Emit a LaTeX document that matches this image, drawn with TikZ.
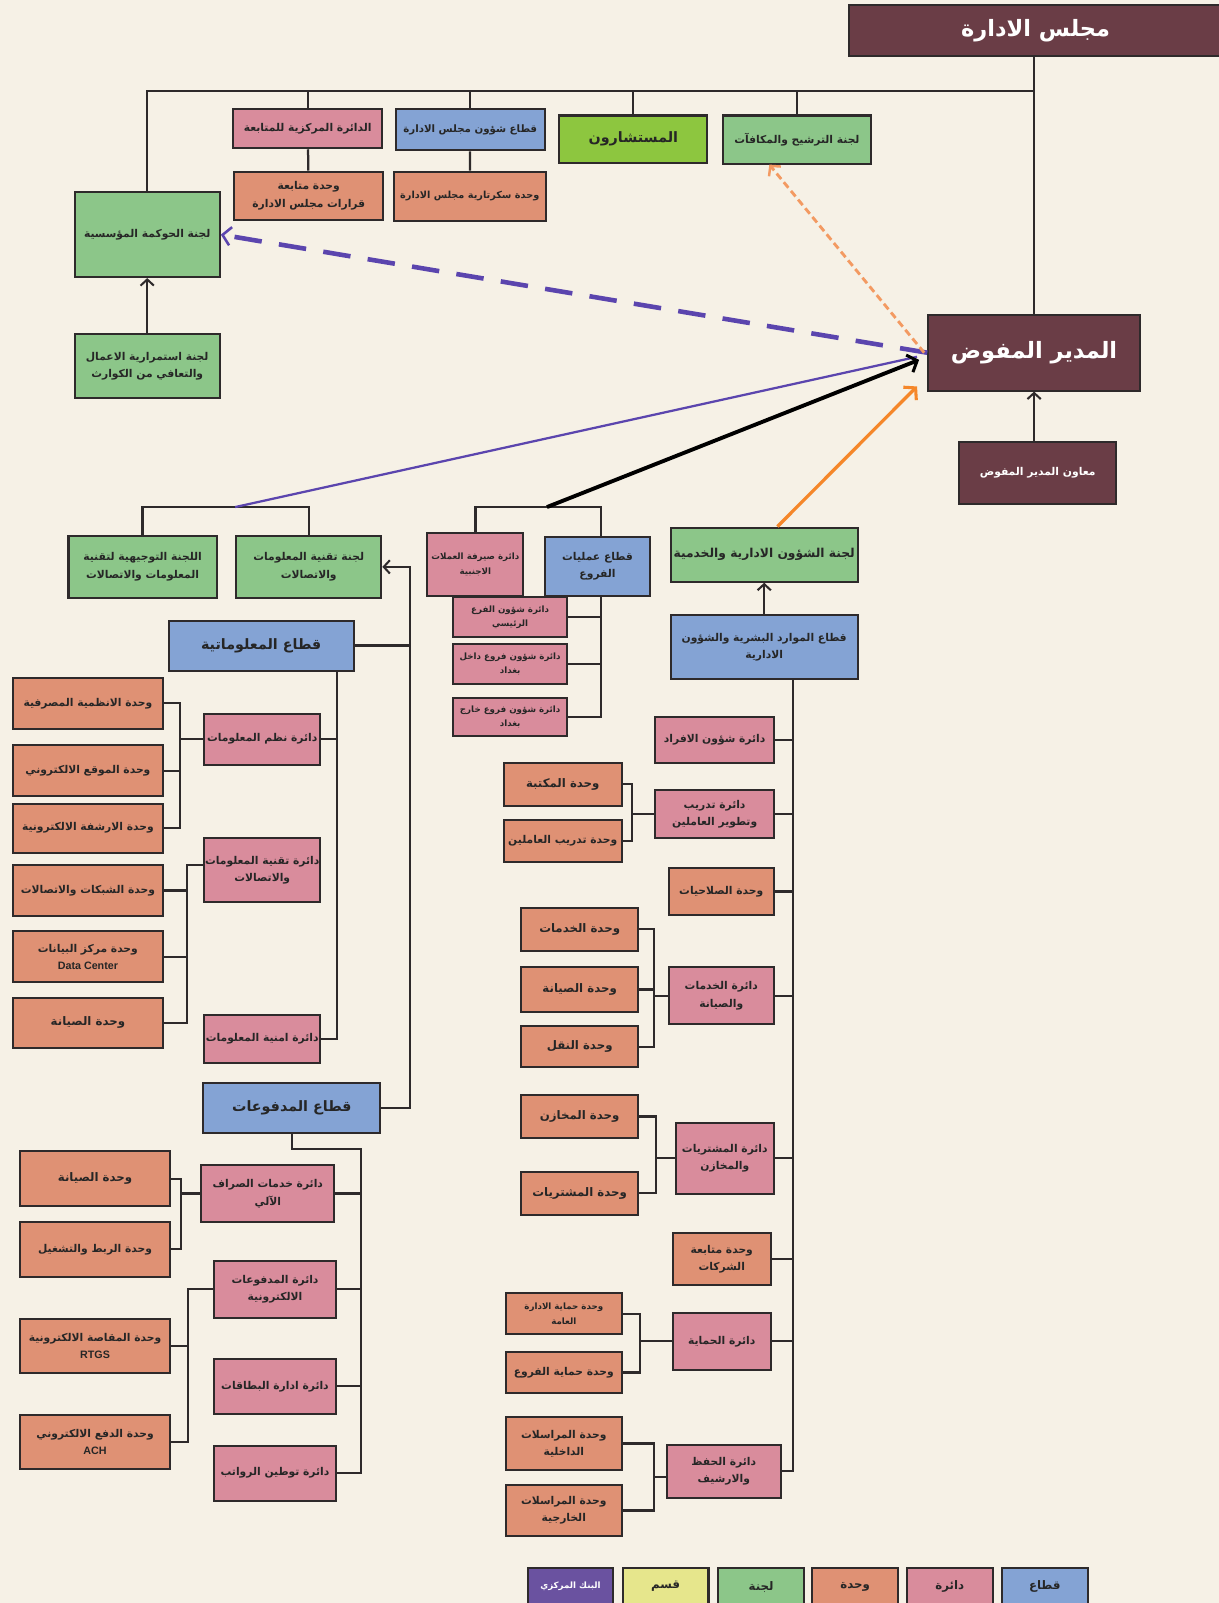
\documentclass[tikz,border=0pt]{standalone}
\usepackage{fontspec}
\usepackage{xcolor}
\usepackage{tikz}
\usetikzlibrary{arrows.meta,calc}
\setmainfont{DejaVu Sans}
\newfontfamily\arabicfont[Script=Arabic]{DejaVu Sans}
\newfontfamily\latinfont{Liberation Sans}
\TeXXeTstate=1
\definecolor{bgcream}{HTML}{F6F1E6}
\definecolor{boxline}{HTML}{2E2A2B}
\definecolor{headfill}{HTML}{6A3D46}
\definecolor{qitaafill}{HTML}{84A3D4}
\definecolor{dairafill}{HTML}{D98C9C}
\definecolor{wahdafill}{HTML}{DF9174}
\definecolor{lajnafill}{HTML}{8CC689}
\definecolor{advfill}{HTML}{8DC63F}
\definecolor{cbfill}{HTML}{6A52A0}
\definecolor{qismfill}{HTML}{E6E68C}
\definecolor{linkpurple}{HTML}{5B45AE}
\definecolor{linkorange}{HTML}{F5872A}
\definecolor{linkpeach}{HTML}{F39A62}
\newcommand{\ar}[1]{{\arabicfont\beginR #1\endR}}
\newcommand{\fbig}{\fontsize{22}{26}\selectfont}
\newcommand{\fmid}{\fontsize{14}{18}\selectfont}
\newcommand{\fsmall}{\fontsize{10.5}{17}\selectfont}
\newcommand{\fshort}{\fontsize{11.5}{17}\selectfont}
\newcommand{\ftiny}{\fontsize{8.5}{14}\selectfont}

\begin{document}
\begin{tikzpicture}[x=1pt, y=-1pt,
  box/.style={draw=boxline, line width=2pt, align=center, inner sep=1pt, font=\fsmall\bfseries, text=black!85},
  wh/.style 2 args={minimum width=#1pt, minimum height=#2pt},
  qitaa/.style={box, fill=qitaafill},
  daira/.style={box, fill=dairafill},
  wahda/.style={box, fill=wahdafill},
  lajna/.style={box, fill=lajnafill},
  head/.style={box, fill=headfill, text=white},
  short/.style={font=\fshort\bfseries},
  ln/.style={line width=2.2pt, boxline},
  arr/.style={ln, -{Straight Barb[length=6pt, width=13pt, line width=2pt]}}
]
  \fill[bgcream] (0,0) rectangle (1192,1568);
  \useasboundingbox (0,0) rectangle (1192,1568);

  \node[head, wh={365}{50}, font=\fbig\bfseries] (majlis) at (1013,30) {\ar{مجلس الادارة}};
  \node[head, wh={207}{74}, font=\fbig\bfseries] (mudir) at (1011.5,345) {\ar{المدير المفوض}};
  \node[head, wh={154}{61}] (muawin) at (1015,462.5) {\ar{معاون المدير المفوض}};
  \node[daira, wh={146}{38}] (markaz) at (301,126) {\ar{الدائرة المركزية للمتابعة}};
  \node[wahda, wh={146}{47}] (mutabaa) at (302,191.5) {\ar{وحدة متابعة}\\\ar{قرارات مجلس الادارة}};
  \node[qitaa, wh={146}{40}, font=\fontsize{10}{16}\selectfont\bfseries] (shuoonmajlis) at (460,127) {\ar{قطاع شؤون مجلس الادارة}};
  \node[wahda, wh={149}{48}, font=\fontsize{9.5}{16}\selectfont\bfseries] (sikritar) at (459.5,192) {\ar{وحدة سكرتارية مجلس الادارة}};
  \node[box, fill=advfill, wh={145}{46}, font=\fmid\bfseries] (mustashar) at (619.5,136) {\ar{المستشارون}};
  \node[lajna, wh={145}{47}] (tarsheeh) at (779.5,136.5) {\ar{لجنة الترشيح والمكافآت}};
  \node[lajna, wh={142}{83}] (hawkama) at (144,229.5) {\ar{لجنة الحوكمة المؤسسية}};
  \node[lajna, wh={142}{62}] (istimrar) at (144,358) {\ar{لجنة استمرارية الاعمال}\\\ar{والتعافي من الكوارث}};

  \node[lajna, wh={145}{61}] (tawjih) at (139.5,554.5) {\ar{اللجنة التوجيهية لتقنية}\\\ar{المعلومات والاتصالات}};
  \node[lajna, wh={142}{61}] (ictlajna) at (302,554.5) {\ar{لجنة تقنية المعلومات}\\\ar{والاتصالات}};
  \node[qitaa, wh={181}{49}, font=\fmid\bfseries] (maalumatiya) at (255.5,631.5) {\ar{قطاع المعلوماتية}};
  \node[daira, wh={113}{50}] (nuthum) at (256.5,723) {\ar{دائرة نظم المعلومات}};
  \node[daira, wh={113}{62}] (taqniya) at (256.5,851) {\ar{دائرة تقنية المعلومات}\\\ar{والاتصالات}};
  \node[daira, wh={113}{47}] (amniya) at (256.5,1016.5) {\ar{دائرة امنية المعلومات}};
  \node[wahda, wh={146}{50}] (anthima) at (86,688) {\ar{وحدة الانظمية المصرفية}};
  \node[wahda, wh={146}{50}] (mawqi) at (86,754) {\ar{وحدة الموقع الالكتروني}};
  \node[wahda, wh={146}{48}] (arshafa) at (86,810) {\ar{وحدة الارشفة الالكترونية}};
  \node[wahda, wh={146}{50}] (shabakat) at (86,871) {\ar{وحدة الشبكات والاتصالات}};
  \node[wahda, wh={146}{50}] (datacenter) at (86,936) {\ar{وحدة مركز البيانات}\\{\latinfont Data Center}};
  \node[wahda, short, wh={146}{49}] (siyanaa) at (86,1000.5) {\ar{وحدة الصيانة}};

  \node[qitaa, wh={173}{49}, font=\fmid\bfseries] (madfooat) at (285.5,1083.5) {\ar{قطاع المدفوعات}};
  \node[daira, wh={130}{55}] (siraf) at (262,1167.5) {\ar{دائرة خدمات الصراف}\\\ar{الآلي}};
  \node[daira, wh={120}{56}] (elec) at (269,1261) {\ar{دائرة المدفوعات}\\\ar{الالكترونية}};
  \node[daira, wh={120}{54}] (cards) at (269,1356) {\ar{دائرة ادارة البطاقات}};
  \node[daira, wh={120}{54}] (rawatib) at (269,1441) {\ar{دائرة توطين الرواتب}};
  \node[wahda, short, wh={146}{54}] (siyanab) at (93,1153) {\ar{وحدة الصيانة}};
  \node[wahda, wh={146}{54}] (rabt) at (93,1222) {\ar{وحدة الربط والتشغيل}};
  \node[wahda, wh={146}{53}] (rtgs) at (93,1316.5) {\ar{وحدة المقاصة الالكترونية}\\{\latinfont RTGS}};
  \node[wahda, wh={146}{53}] (ach) at (93,1410.5) {\ar{وحدة الدفع الالكتروني}\\{\latinfont ACH}};

  \node[daira, wh={94}{62}, font=\ftiny\bfseries] (sairafa) at (465,552) {\ar{دائرة صيرفة العملات}\\\ar{الاجنبية}};
  \node[qitaa, wh={103}{58}] (amaliyat) at (584.5,554) {\ar{قطاع عمليات}\\\ar{الفروع}};
  \node[daira, wh={112}{39}, font=\ftiny\bfseries] (raeesi) at (499,603.5) {\ar{دائرة شؤون الفرع}\\\ar{الرئيسي}};
  \node[daira, wh={112}{39}, font=\ftiny\bfseries] (dakhil) at (499,649.5) {\ar{دائرة شؤون فروع داخل}\\\ar{بغداد}};
  \node[daira, wh={112}{37}, font=\ftiny\bfseries] (kharij) at (499,701.5) {\ar{دائرة شؤون فروع خارج}\\\ar{بغداد}};

  \node[lajna, wh={183}{53}, font=\fontsize{12}{16}\selectfont\bfseries] (lajnashuoon) at (747.5,542.5) {\ar{لجنة الشؤون الادارية والخدمية}};
  \node[qitaa, wh={183}{62}] (mawarid) at (747.5,633) {\ar{قطاع الموارد البشرية والشؤون}\\\ar{الادارية}};
  \node[daira, wh={116}{45}] (afrad) at (699,723.5) {\ar{دائرة شؤون الافراد}};
  \node[daira, wh={116}{47}] (tadreeb) at (699,796.5) {\ar{دائرة تدريب}\\\ar{وتطوير العاملين}};
  \node[wahda, wh={103}{46}] (salahiyat) at (705.5,872) {\ar{وحدة الصلاحيات}};
  \node[daira, wh={103}{56}] (khadamat) at (705.5,974) {\ar{دائرة الخدمات}\\\ar{والصيانة}};
  \node[daira, wh={96}{70}] (mushtarayat) at (709,1133) {\ar{دائرة المشتريات}\\\ar{والمخازن}};
  \node[wahda, wh={96}{51}] (sharikat) at (706,1231.5) {\ar{وحدة متابعة}\\\ar{الشركات}};
  \node[daira, wh={96}{56}] (himaya) at (706,1312) {\ar{دائرة الحماية}};
  \node[daira, wh={112}{52}] (hifth) at (708,1439) {\ar{دائرة الحفظ}\\\ar{والارشيف}};
  \node[wahda, short, wh={115}{42}] (maktaba) at (550.5,767) {\ar{وحدة المكتبة}};
  \node[wahda, wh={115}{41}] (tadreebw) at (550.5,822.5) {\ar{وحدة تدريب العاملين}};
  \node[wahda, short, wh={114}{42}] (khadamatw) at (567,909) {\ar{وحدة الخدمات}};
  \node[wahda, short, wh={114}{44}] (siyanac) at (567,968) {\ar{وحدة الصيانة}};
  \node[wahda, short, wh={114}{40}] (naql) at (567,1024) {\ar{وحدة النقل}};
  \node[wahda, short, wh={114}{42}] (makhazin) at (567,1092) {\ar{وحدة المخازن}};
  \node[wahda, short, wh={114}{42}] (mushtarayatw) at (567,1167) {\ar{وحدة المشتريات}};
  \node[wahda, wh={113}{40}, font=\ftiny\bfseries] (himayaidara) at (551.5,1285) {\ar{وحدة حماية الادارة}\\\ar{العامة}};
  \node[wahda, wh={113}{41}] (himayafuru) at (551.5,1342.5) {\ar{وحدة حماية الفروع}};
  \node[wahda, wh={113}{52}] (murasalatd) at (551.5,1412) {\ar{وحدة المراسلات}\\\ar{الداخلية}};
  \node[wahda, wh={113}{49}] (murasalatkh) at (551.5,1477.5) {\ar{وحدة المراسلات}\\\ar{الخارجية}};

  \node[box, fill=cbfill, wh={84}{37}, font=\ftiny\bfseries, text=white!85] (keycb) at (558,1552) {\ar{البنك المركزي}};
  \node[box, fill=qismfill, short, wh={84}{37}] (keyqism) at (651,1552) {\ar{قسم}};
  \node[lajna, short, wh={84}{37}] (keylajna) at (744.5,1552) {\ar{لجنة}};
  \node[wahda, short, wh={84}{37}] (keywahda) at (836.5,1552) {\ar{وحدة}};
  \node[daira, short, wh={84}{37}] (keydaira) at (929,1552) {\ar{دائرة}};
  \node[qitaa, short, wh={84}{37}] (keyqitaa) at (1022,1552) {\ar{قطاع}};

  \coordinate (topbar) at (1011.5,89);
  \coordinate (ictbar) at (230,496);
  \coordinate (brbar) at (535,496);
  \coordinate (brbus) at (588,0);
  \coordinate (itbus) at (401,0);
  \coordinate (mbus) at (330,0);
  \coordinate (pbus) at (353,1124);
  \coordinate (hrbus) at (776,0);
  \coordinate (busa) at (176,0);
  \coordinate (busb) at (183,0);
  \coordinate (busc) at (177,0);
  \coordinate (busd) at (184,0);
  \coordinate (buse) at (618,0);
  \coordinate (busf) at (640,0);
  \coordinate (busg) at (642,0);
  \coordinate (bush) at (626,0);
  \coordinate (busi) at (640,0);

  \draw[ln] (majlis.south -| mudir.north) -- (mudir.north);
  \draw[ln] (hawkama.north) |- (topbar);
  \foreach \n in {markaz,shuoonmajlis,mustashar,tarsheeh}
    \draw[ln] (\n.north) -- (\n.north |- topbar);
  \draw[ln] (markaz) -- (mutabaa);
  \draw[ln] (shuoonmajlis) -- (sikritar);
  \draw[arr] (istimrar) -- (hawkama);
  \draw[arr] (muawin.north -| mudir.south) -- (mudir.south);

  \draw[ln] (tawjih.north) |- (ictbar) -| (ictlajna.north);
  \draw[ln] (sairafa.north) |- (brbar) -| (brbus |- amaliyat.north);
  \draw[ln] (brbus |- amaliyat.south) |- (kharij.east);
  \foreach \n in {raeesi,dakhil}
    \draw[ln] (\n.east) -- (\n.east -| brbus);
  \draw[arr] (mawarid) -- (lajnashuoon);

  \draw[arr] (madfooat.east) -| (itbus |- ictlajna.east) -- (ictlajna.east);
  \draw[ln] (maalumatiya.east) -- (maalumatiya.east -| itbus);
  \draw[ln] (maalumatiya.south -| mbus) |- (amniya.east);
  \draw[ln] (nuthum.east) -- (nuthum.east -| mbus);
  \draw[ln] (anthima.east) -| (busa |- nuthum.west) -- (nuthum.west);
  \draw[ln] (busa |- anthima.east) |- (arshafa.east);
  \draw[ln] (mawqi.east) -- (mawqi.east -| busa);
  \draw[ln] ([yshift=5pt]taqniya.west) -| (busb |- siyanaa.east) -- (siyanaa.east);
  \foreach \n in {shabakat,datacenter}
    \draw[ln] (\n.east) -- (\n.east -| busb);

  \draw[ln] (madfooat.south) |- (pbus) |- (rawatib.east);
  \foreach \n in {siraf,elec,cards}
    \draw[ln] (\n.east) -- (\n.east -| pbus);
  \draw[ln] (siyanab.east) -| (busc |- rabt.east) -- (rabt.east);
  \draw[ln] (siraf.west) -- (siraf.west -| busc);
  \draw[ln] (elec.west) -| (busd |- ach.east) -- (ach.east);
  \draw[ln] (rtgs.east) -- (rtgs.east -| busd);

  \draw[ln] (mawarid.south -| hrbus) |- (hifth.east);
  \foreach \n in {afrad,tadreeb,salahiyat,khadamat,mushtarayat,sharikat,himaya}
    \draw[ln] (\n.east) -- (\n.east -| hrbus);
  \draw[ln] (maktaba.east) -| (buse |- tadreebw.east) -- (tadreebw.east);
  \draw[ln] (tadreeb.west) -- (tadreeb.west -| buse);
  \draw[ln] (khadamatw.east) -| (busf |- naql.east) -- (naql.east);
  \draw[ln] (siyanac.east) -- (siyanac.east -| busf);
  \draw[ln] (khadamat.west) -- (khadamat.west -| busf);
  \draw[ln] (makhazin.east) -| (busg |- mushtarayatw.east) -- (mushtarayatw.east);
  \draw[ln] (mushtarayat.west) -- (mushtarayat.west -| busg);
  \draw[ln] (himayaidara.east) -| (bush |- himayafuru.east) -- (himayafuru.east);
  \draw[ln] (himaya.west) -- (himaya.west -| bush);
  \draw[ln] (murasalatd.east) -| (busi |- murasalatkh.east) -- (murasalatkh.east);
  \draw[ln] ([yshift=-6pt]hifth.west) -- ([yshift=-6pt]hifth.west -| busi);

  \draw[linkpurple, line width=4.5pt, dash pattern=on 27pt off 17pt, -{Straight Barb[length=8pt, width=18pt, line width=2.5pt]}] (mudir.west) -- (hawkama.east);
  \draw[linkpeach, line width=2.8pt, dash pattern=on 7pt off 4pt, -{Straight Barb[length=7pt, width=15pt, line width=2.4pt]}] ([xshift=-3pt]mudir.west) -- ([xshift=-27pt]tarsheeh.south);
  \draw[linkpurple, line width=2.2pt] (ictbar) -- ([xshift=-10pt,yshift=-4pt]mudir.west);
  \draw[black, line width=3.8pt, -{Straight Barb[length=8pt, width=18pt, line width=3pt]}] (brbar) -- ([xshift=-8pt,yshift=-7pt]mudir.west);
  \draw[linkorange, line width=3.2pt, -{Straight Barb[length=8pt, width=18pt, line width=3pt]}] ([xshift=13pt]lajnashuoon.north) -- ([xshift=-10pt,yshift=5pt]mudir.south west);
\end{tikzpicture}
\end{document}
